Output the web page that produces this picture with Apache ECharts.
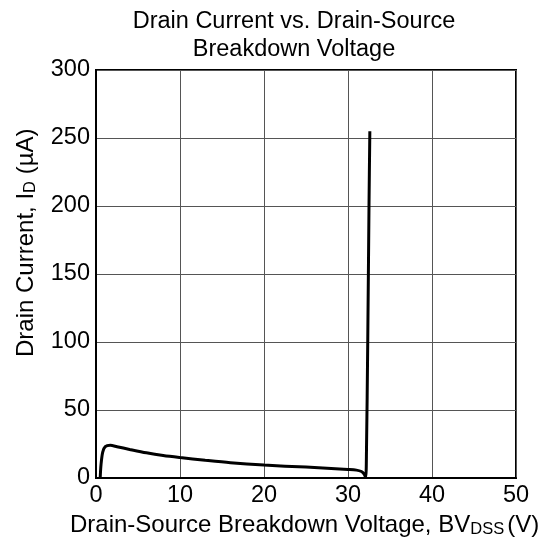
<!DOCTYPE html>
<html><head><meta charset="utf-8">
<script src="https://cdn.jsdelivr.net/npm/echarts@6/dist/echarts.min.js"></script>
<style>html,body{margin:0;padding:0;background:#fff}#c{width:542px;height:545px}</style>
</head><body><div id="c"></div>
<script>
const voltage = [0.5, 0.6, 0.8, 1.1, 1.7, 2.5, 4, 6, 8, 10, 13, 16, 20, 25, 28, 30, 31, 31.6, 31.9, 32.1, 32.2, 32.35, 32.5, 32.6];
const current = [0, 10, 19, 23, 24, 23, 21, 18.5, 16.5, 15, 13, 11.2, 9.5, 8, 7, 6.3, 5.8, 4.8, 3, 0.5, 20, 100, 200, 255];
const xTicks = [0, 10, 20, 30, 40, 50];
const yTicks = [0, 50, 100, 150, 200, 250, 300];
const FONT = '"Liberation Sans", Arial, sans-serif';

const chart = echarts.init(document.getElementById('c'), null, {renderer: 'canvas'});
chart.setOption({
  backgroundColor: '#fff',
  animation: false,
  title: {
    text: 'Drain Current vs. Drain-Source\nBreakdown Voltage',
    left: 289, top: 3, textAlign: 'center',
    textStyle: {fontFamily: FONT, fontSize: 23.5, fontWeight: 'normal', color: '#000', lineHeight: 28}
  },
  grid: {left: 96, right: 26, top: 70, bottom: 67, show: true, borderColor: '#000', borderWidth: 2, backgroundColor: 'transparent'},
  xAxis: {
    type: 'value', min: xTicks[0], max: xTicks[xTicks.length - 1], interval: 10,
    axisLine: {show: true, lineStyle: {color: '#000', width: 2}},
    axisTick: {show: false},
    splitLine: {show: true, lineStyle: {color: '#555', width: 1}},
    axisLabel: {fontFamily: FONT, fontSize: 23.5, color: '#000', margin: 6}
  },
  yAxis: {
    type: 'value', min: yTicks[0], max: yTicks[yTicks.length - 1], interval: 50,
    axisLine: {show: true, lineStyle: {color: '#000', width: 2}},
    axisTick: {show: false},
    splitLine: {show: true, lineStyle: {color: '#555', width: 1}},
    axisLabel: {fontFamily: FONT, fontSize: 23.5, color: '#000', margin: 6}
  },
  graphic: [
    {
      type: 'text', left: 70, top: 513,
      style: {
        rich: {
          m: {fontFamily: FONT, fontSize: 24, fill: '#000'},
          s: {fontFamily: FONT, fontSize: 16.5, fill: '#000', padding: [9, 3, 0, 0]}
        },
        text: '{m|Drain-Source Breakdown Voltage, BV}{s|DSS}{m|(V)}'
      }
    },
    {
      type: 'text', x: 13, y: 357, rotation: Math.PI / 2,
      style: {
        rich: {
          m: {fontFamily: FONT, fontSize: 24, fill: '#000'},
          s: {fontFamily: FONT, fontSize: 16.5, fill: '#000', padding: [9, 0, 0, 0]}
        },
        text: '{m|Drain Current, I}{s|D}{m| (µA)}'
      }
    }
  ],
  series: [{
    type: 'line',
    data: voltage.map((v, i) => [v, current[i]]),
    showSymbol: false,
    smooth: 0.3,
    lineStyle: {color: '#000', width: 3},
    clip: true
  }]
});
</script></body></html>
